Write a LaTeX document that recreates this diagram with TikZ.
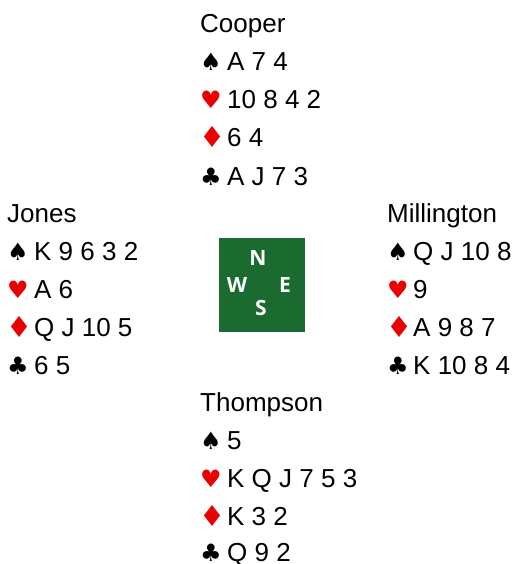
\documentclass[tikz,border=0pt]{standalone}
\usepackage{fontspec}
\setmainfont{Liberation Sans}
\newfontfamily\suitfont{DejaVu Sans}
\newfontfamily\compassfont{Open Sans}
\definecolor{compassgreen}{RGB}{27,107,48}
\definecolor{suitred}{RGB}{235,0,0}
\tikzset{
  handtext/.style={anchor=base west, inner sep=0pt, font=\fontsize{26}{30}\selectfont},
  suitsym/.style={anchor=base west, inner sep=0pt, font=\suitfont\fontsize{24}{28}\selectfont},
  redsuit/.style={suitsym, text=suitred},
  diamondsuit/.style={anchor=base west, inner sep=0pt, text=suitred, font=\suitfont\fontsize{29}{30}\selectfont},
  blacksuit/.style={suitsym, text=black},
  compassbox/.style={fill=compassgreen, draw=none},
  compassletter/.style={text=white, inner sep=0pt, font=\compassfont\bfseries\fontsize{21}{24}\selectfont}
}
\begin{document}
\begin{tikzpicture}[x=1pt,y=-1pt]
\path[use as bounding box] (0,0) rectangle (517,564);
% compass
\fill[compassbox] (219,238) rectangle (305,332);
\node[compassletter] (cN) at (258,258) {N};
\node[compassletter] (cW) at (237,285) {W};
\node[compassletter] (cE) at (285,285) {E};
\node[compassletter] (cS) at (261,308) {S};
% North: Cooper
\node[handtext] (nName) at (200,33) {Cooper};
\node[blacksuit] (nS) at (200,71) {♠};
\node[handtext] (nSc) at (227,71) {A 7 4};
\node[redsuit] (nH) at (200,109) {♥};
\node[handtext] (nHc) at (227,109) {10 8 4 2};
\node[diamondsuit] (nD) at (199,148) {♦};
\node[handtext] (nDc) at (227,147) {6 4};
\node[blacksuit] (nC) at (200,185) {♣};
\node[handtext] (nCc) at (227,185) {A J 7 3};
% West: Jones
\node[handtext] (wName) at (7,222) {Jones};
\node[blacksuit] (wS) at (7,260) {♠};
\node[handtext] (wSc) at (34,260) {K 9 6 3 2};
\node[redsuit] (wH) at (7,298) {♥};
\node[handtext] (wHc) at (34,298) {A 6};
\node[diamondsuit] (wD) at (6,337) {♦};
\node[handtext] (wDc) at (34,336) {Q J 10 5};
\node[blacksuit] (wC) at (7,374) {♣};
\node[handtext] (wCc) at (34,374) {6 5};
% East: Millington
\node[handtext] (eName) at (387,222) {Millington};
\node[blacksuit] (eS) at (387,260) {♠};
\node[handtext] (eSc) at (413,260) {Q J 10 8};
\node[redsuit] (eH) at (387,298) {♥};
\node[handtext] (eHc) at (413,298) {9};
\node[diamondsuit] (eD) at (386,337) {♦};
\node[handtext] (eDc) at (413,336) {A 9 8 7};
\node[blacksuit] (eC) at (387,374) {♣};
\node[handtext] (eCc) at (413,374) {K 10 8 4};
% South: Thompson
\node[handtext] (sName) at (200,411) {Thompson};
\node[blacksuit] (sS) at (200,449) {♠};
\node[handtext] (sSc) at (227,449) {5};
\node[redsuit] (sH) at (200,487) {♥};
\node[handtext] (sHc) at (227,487) {K Q J 7 5 3};
\node[diamondsuit] (sD) at (199,526) {♦};
\node[handtext] (sDc) at (227,525) {K 3 2};
\node[blacksuit] (sC) at (200,561) {♣};
\node[handtext] (sCc) at (227,561) {Q 9 2};
\end{tikzpicture}
\end{document}
